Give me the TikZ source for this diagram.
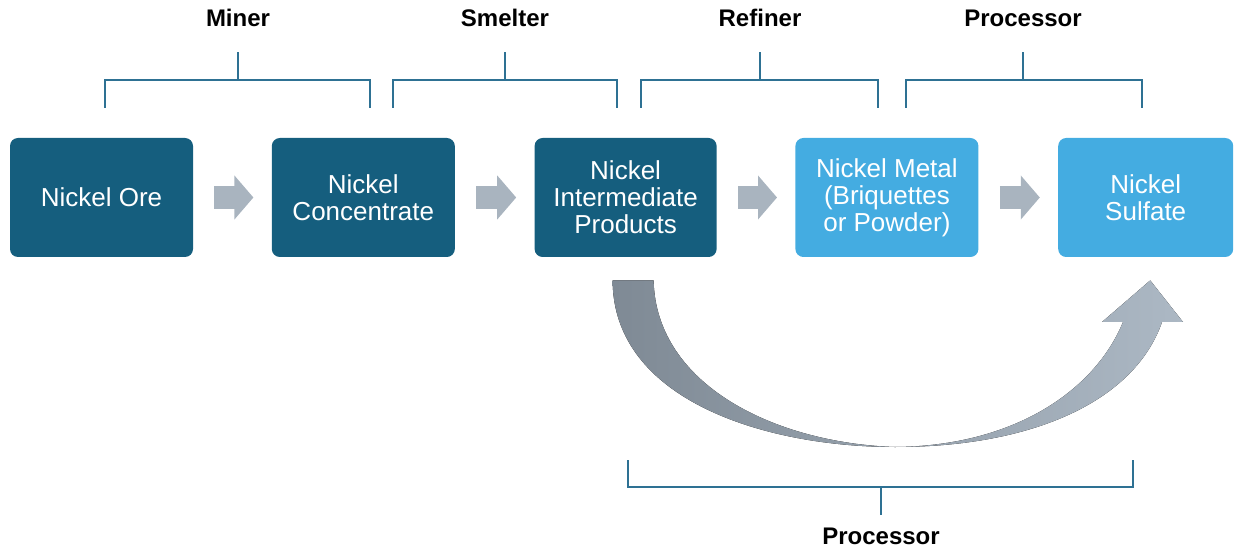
\documentclass[tikz,border=0pt]{standalone}
\usepackage{fontspec}
\setmainfont{Liberation Sans}
\usepackage{tikz}
\usetikzlibrary{positioning, arrows.meta, calc}

\definecolor{nickeldark}{HTML}{155E7E}
\definecolor{nickellight}{HTML}{44ACE1}
\definecolor{bracketblue}{HTML}{2E7193}
\definecolor{chevgray}{HTML}{A9B4BF}
\definecolor{curvedark}{HTML}{7F8A95}
\definecolor{curvelight}{HTML}{ACB8C4}

\tikzset{
  stage/.style={rounded corners=4pt, minimum width=91.5pt, minimum height=59.5pt,
    inner sep=0pt, text=white, align=center, font=\fontsize{13}{13.5}\selectfont},
  darkstage/.style={stage, fill=nickeldark},
  lightstage/.style={stage, fill=nickellight},
  rolelabel/.style={font=\bfseries\fontsize{12}{14}\selectfont, anchor=base},
  bracket/.style={draw=bracketblue, line width=1pt},
  chevron/.style={draw=chevgray, line width=11.5pt, -{Triangle[length=9.5pt, width=21.5pt]}},
}

\begin{document}
\begin{tikzpicture}[x=0.5pt, y=-0.5pt]
  \useasboundingbox (0,0) rectangle (1235,550);

  % stages of the chain
  \node[darkstage] (ore) at (101.5,197.5) {Nickel Ore};
  \node[darkstage, right=39pt of ore] (conc) {Nickel\\Concentrate};
  \node[darkstage, right=39.5pt of conc, minimum width=91pt] (inter) {Nickel\\Intermediate\\Products};
  \node[lightstage, right=39pt of inter] (metal) {Nickel Metal\\(Briquettes\\or Powder)};
  \node[lightstage, right=39.5pt of metal, minimum width=87.5pt] (sulf) {Nickel\\Sulfate};

  % grey arrows between stages
  \foreach \a/\b in {ore/conc, conc/inter, inter/metal, metal/sulf}{
    \draw[chevron] ([xshift=10.5pt]\a.east) -- ([xshift=-9pt]\b.west);
  }

  % roles on top
  \foreach \xl/\xm/\xr/\txt/\nm in {105/238/370/Miner/miner, 393/505/617/Smelter/smelter,
      641/760/878/Refiner/refiner, 906/1023/1142/Processor/proctop}{
    \node[rolelabel] (\nm) at (\xm,27) {\txt};
    \draw[bracket] (\xl,108) |- (\xr,80) -- (\xr,108);
    \draw[bracket] (\xm,80) -- (\xm,52);
  }

  % bypass arrow: intermediate products straight to sulfate
  \fill[left color=curvedark, right color=curvelight]
    ($(inter.south)+(-13,23)$) .. controls (613,400) and (765,447) .. (895,447)
    .. controls (1035,447) and (1135,400) .. (1162,322)
    -- (1183,322) -- ($(sulf.south)+(4.5,23)$) -- (1102,322) -- (1123,322)
    .. controls (1095,390) and (1015,446) .. (895,447)
    .. controls (775,443) and (656,385) .. ($(inter.south)+(28,23)$) -- cycle;

  % role below
  \node[rolelabel] (procbottom) at (881,544) {Processor};
  \draw[bracket] (628,460) |- (1133,487) -- (1133,460);
  \draw[bracket] (881,487) -- (881,515);
\end{tikzpicture}
\end{document}
